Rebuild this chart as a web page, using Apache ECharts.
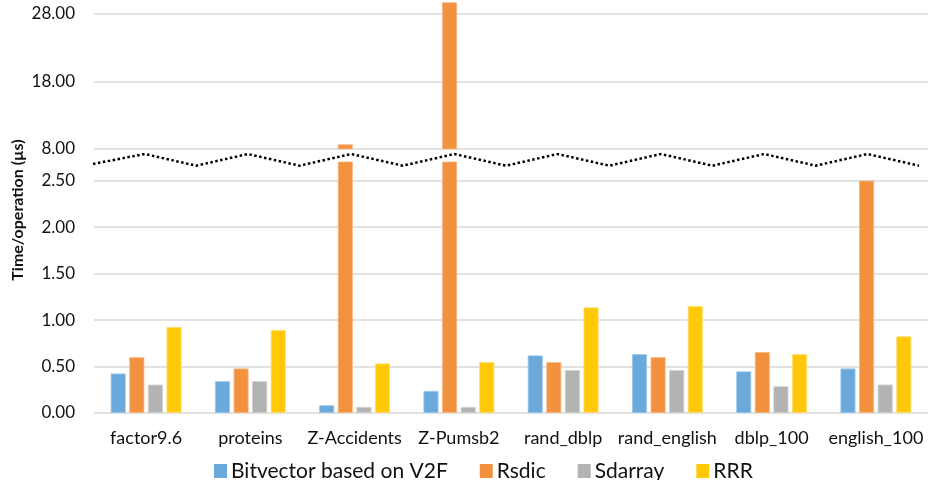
<!DOCTYPE html>
<html>
<head>
<meta charset="utf-8">
<script src="https://cdn.jsdelivr.net/npm/echarts@6.0.0/dist/echarts.min.js"></script>
<style>
html,body{margin:0;padding:0;background:#fff;}
#chart{width:928px;height:480px;}
</style>
</head>
<body>
<div id="chart"></div>
<script>
// ---- data ----
const categories = ['factor9.6', 'proteins', 'Z-Accidents', 'Z-Pumsb2', 'rand_dblp', 'rand_english', 'dblp_100', 'english_100'];
const seriesNames = ['Bitvector based on V2F', 'Rsdic', 'Sdarray', 'RRR'];
const bitvectorV2F = [0.425, 0.342, 0.083, 0.237, 0.619, 0.633, 0.447, 0.479];
const rsdic        = [0.600, 0.479, 8.69, 29.67, 0.547, 0.600, 0.655, 2.50];
const sdarray      = [0.305, 0.342, 0.065, 0.065, 0.461, 0.461, 0.288, 0.306];
const rrr          = [0.925, 0.892, 0.533, 0.547, 1.137, 1.151, 0.633, 0.824];
const lowerTicks = [0, 0.5, 1, 1.5, 2, 2.5];
const upperTicks = [8, 18, 28];
const yAxisTitle = 'Time/operation (µs)';
// axis-break decoration pattern (0 = trough, 1 = peak)
const breakPattern = [0.15, 1, 0, 1, 0, 1, 0, 1, 0, 1, 0, 1, 0, 1, 0, 1, 0];

const colors = ['#6CA9DB', '#F2923F', '#B3B3B3', '#FFC90A'];
const borders = ['#9CC6EA', '#F7B883', '#CFCFCF', '#FFDD70'];
const allValues = [bitvectorV2F, rsdic, sdarray, rrr];
const fontFam = 'Lato, "Open Sans", sans-serif';
const textColor = '#111';
const gridColor = '#D9D9D9';

const chart = echarts.init(document.getElementById('chart'), null, {renderer: 'canvas'});

const series = [];
allValues.forEach((vals, i) => {
  [0, 1].forEach(g => {
    series.push({
      name: seriesNames[i],
      type: 'bar',
      xAxisIndex: g,
      yAxisIndex: g,
      data: vals,
      barWidth: 15,
      barGap: '24%',
      clip: true,
      itemStyle: {color: colors[i], borderColor: borders[i], borderWidth: 0.8},
      emphasis: {disabled: true},
      animation: false
    });
  });
});
series.push({
  type: 'line',
  xAxisIndex: 2,
  yAxisIndex: 2,
  data: breakPattern.map((v, k) => [k, v]),
  symbol: 'none',
  lineStyle: {color: '#000', width: 2.5, type: [2.5, 2.5], cap: 'butt'},
  silent: true,
  animation: false
});

const option = {
  backgroundColor: '#fff',
  color: colors,
  textStyle: {fontFamily: fontFam},
  legend: {
    data: seriesNames.map(n => ({name: n, itemStyle: {borderWidth: 0}})),
    left: 209,
    top: 455,
    itemWidth: 13,
    itemHeight: 14,
    itemGap: 32,
    icon: 'rect',
    textStyle: {fontSize: 21, color: textColor, fontFamily: fontFam, lineHeight: 22, padding: [0, 0, 0, -1]},
    selectedMode: false
  },
  grid: [
    {left: 94, right: 0, top: 162, height: 251},
    {left: 94, right: 0, top: 0, height: 149},
    {left: 93, width: 826, top: 154, height: 11.7}
  ],
  xAxis: [
    {type: 'category', gridIndex: 0, data: categories,
     axisLine: {show: false}, axisTick: {show: false},
     axisLabel: {fontSize: 18, color: textColor, margin: 16, fontFamily: fontFam, interval: 0}},
    {type: 'category', gridIndex: 1, data: categories, show: false},
    {type: 'value', gridIndex: 2, min: 0, max: 16, show: false}
  ],
  yAxis: [
    {type: 'value', gridIndex: 0, min: 0, max: 2.7, interval: 0.5,
     axisLine: {show: false},
     axisTick: {show: false, customValues: lowerTicks},
     axisLabel: {customValues: lowerTicks, fontSize: 17, color: textColor, margin: 19, fontFamily: fontFam,
                 formatter: v => v.toFixed(2)},
     splitLine: {lineStyle: {color: gridColor, width: 1.5}}},
    {type: 'value', gridIndex: 1, min: 8, max: 30, interval: 10,
     axisLine: {show: false},
     axisTick: {show: false, customValues: upperTicks},
     axisLabel: {customValues: upperTicks, fontSize: 17, color: textColor, margin: 19, fontFamily: fontFam,
                 formatter: v => v.toFixed(2)},
     splitLine: {lineStyle: {color: gridColor, width: 1.5}}},
    {type: 'value', gridIndex: 2, min: 0, max: 1, show: false}
  ],
  graphic: [{
    type: 'text',
    x: 18,
    y: 210,
    rotation: Math.PI / 2,
    style: {text: yAxisTitle, font: 'bold 16px ' + fontFam, fill: textColor, align: 'center', verticalAlign: 'middle'}
  }],
  series: series
};
chart.setOption(option);
</script>
</body>
</html>
